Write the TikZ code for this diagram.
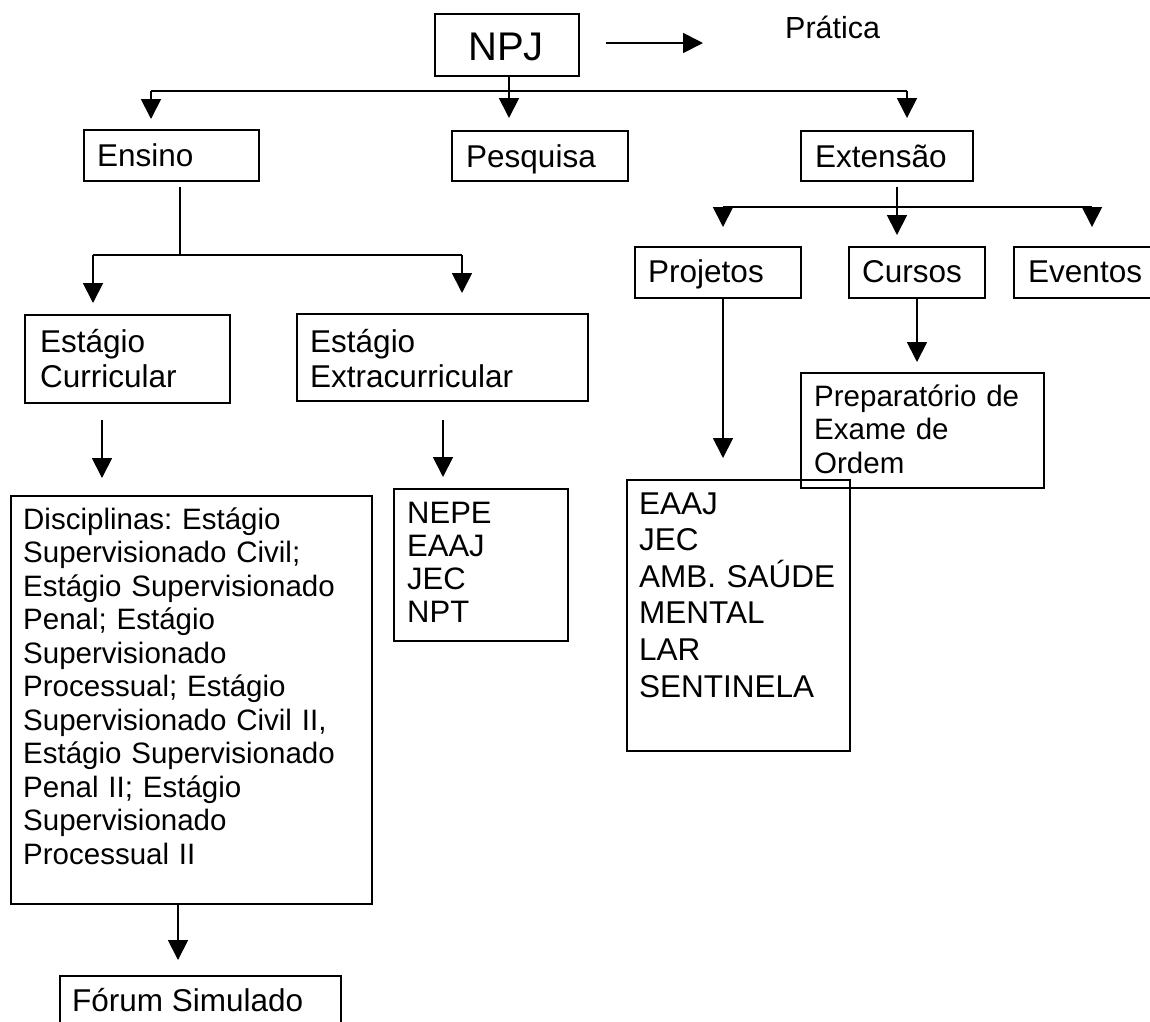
\documentclass[tikz,border=0pt]{standalone}
\usepackage{fontspec}
\setmainfont{Liberation Sans}
\usetikzlibrary{arrows.meta}
\frenchspacing

\tikzset{
  box/.style={draw, line width=1.8pt, inner sep=0pt, anchor=north west},
  txt/.style={inner sep=0pt, anchor=base west, align=left},
  lbl/.style={txt, font=\fontsize{31.5}{36.2}\selectfont},
  small/.style={txt, font=\fontsize{29.5}{33.5}\selectfont},
  conn/.style={line width=1.8pt},
  arrow/.style={conn, -{Triangle[length=20pt, width=20pt]}},
}

% rectangle node from its top-left corner and size
\newcommand{\boxat}[5]{\node[box, minimum width=#4pt, minimum height=#5pt] (#1) at (#2,#3) {};}

\begin{document}
\begin{tikzpicture}[x=1pt, y=-1pt]
  \useasboundingbox (0,0) rectangle (1150,1021);
  \fill[white] (0,0) rectangle (1150,1021);
  \clip (0,0) rectangle (1150,1021);

  % ---- boxes ----
  \boxat{npj}{434}{13}{144}{62}
  \boxat{ensino}{83}{129}{175}{51}
  \boxat{pesquisa}{451}{130}{176}{50}
  \boxat{extensao}{800}{130}{172}{50}
  \boxat{curricular}{24}{314}{205}{88}
  \boxat{extra}{296}{313}{291}{87}
  \boxat{disc}{10}{495}{361}{408}
  \boxat{nepe}{393}{488}{174}{152}
  \boxat{forum}{59}{975}{281}{70}
  \boxat{projetos}{634}{246}{166}{51}
  \boxat{cursos}{848}{246}{136}{51}
  \boxat{eventos}{1013}{246}{150}{51}
  \boxat{prep}{800}{372}{243}{115}
  \boxat{eaaj}{626}{479}{223}{271}

  % ---- texts ----
  \node[txt, font=\fontsize{40}{46}\selectfont] (npjT) at (468,60) {NPJ};
  \node[txt, font=\fontsize{30.5}{35}\selectfont] (pratica) at (785,38) {Prática};
  \node[lbl] (ensinoT) at (97,166) {Ensino};
  \node[lbl] (pesquisaT) at (466,167) {Pesquisa};
  \node[lbl] (extensaoT) at (815,167) {Extensão};
  \node[lbl, font=\fontsize{31.5}{35}\selectfont, text width=190pt] (curricularT) at (40,352) {Estágio\\Curricular};
  \node[lbl, font=\fontsize{31.5}{35}\selectfont, text width=270pt] (extraT) at (310,352) {Estágio\\Extracurricular};
  \node[small, text width=345pt] (discT) at (23,529)
    {Disciplinas: Estágio\\Supervisionado Civil;\\Estágio Supervisionado\\Penal; Estágio\\Supervisionado\\Processual; Estágio\\Supervisionado Civil II,\\Estágio Supervisionado\\Penal II; Estágio\\Supervisionado\\Processual II};
  \node[txt, font=\fontsize{31}{33.3}\selectfont, text width=150pt] (nepeT) at (407,523) {NEPE\\EAAJ\\JEC\\NPT};
  \node[lbl] (forumT) at (72,1011) {Fórum Simulado};
  \node[lbl] (projetosT) at (648,282) {Projetos};
  \node[lbl] (cursosT) at (862,282) {Cursos};
  \node[lbl] (eventosT) at (1028,282) {Eventos};
  \node[small, text width=230pt] (prepT) at (814,406) {Preparatório de\\Exame de\\Ordem};
  \node[lbl, font=\fontsize{31.5}{36.6}\selectfont, text width=210pt] (eaajT) at (639,514) {EAAJ\\JEC\\AMB. SAÚDE\\MENTAL\\LAR\\SENTINELA};

  % ---- free connector points ----
  \coordinate (praticaFrom) at (606,43);
  \coordinate (praticaTo) at (703,43);
  \coordinate (topBar) at (509,91);
  \coordinate (tipEnsino) at (151,119);
  \coordinate (tipPesquisa) at (509,118);
  \coordinate (tipExtensao) at (907,118);
  \coordinate (ensinoStem) at (180,187);
  \coordinate (ensinoBar) at (180,255);
  \coordinate (tipCurricular) at (93,303);
  \coordinate (tipExtra) at (462,293);
  \coordinate (curStem) at (102,420);
  \coordinate (tipDisc) at (102,478);
  \coordinate (extraStem) at (443,420);
  \coordinate (tipNepe) at (443,477);
  \coordinate (tipForum) at (178,960);
  \coordinate (extStem) at (897,187);
  \coordinate (extBar) at (897,207);
  \coordinate (tipCursos) at (897,235);
  \coordinate (tipProjetos) at (723,227);
  \coordinate (tipEventos) at (1092,227);
  \coordinate (tipEaaj) at (723,458);
  \coordinate (tipPrep) at (917,362);

  % ---- connectors ----
  \draw[arrow] (praticaFrom) -- (praticaTo);

  \draw[conn] (tipEnsino |- topBar) -- (tipExtensao |- topBar);
  \draw[arrow] (npj.south -| tipPesquisa) -- (tipPesquisa);
  \draw[arrow] (tipEnsino |- topBar) -- (tipEnsino);
  \draw[arrow] (tipExtensao |- topBar) -- (tipExtensao);

  \draw[conn] (ensinoStem) -- (ensinoBar);
  \draw[conn] (tipCurricular |- ensinoBar) -- (tipExtra |- ensinoBar);
  \draw[arrow] (tipCurricular |- ensinoBar) -- (tipCurricular);
  \draw[arrow] (tipExtra |- ensinoBar) -- (tipExtra);

  \draw[arrow] (curStem) -- (tipDisc);
  \draw[arrow] (extraStem) -- (tipNepe);
  \draw[arrow] (disc.south -| tipForum) -- (tipForum);

  \draw[conn] (tipProjetos |- extBar) -- (tipEventos |- extBar);
  \draw[arrow] (extStem) -- (tipCursos);
  \draw[arrow] (tipProjetos |- extBar) -- (tipProjetos);
  \draw[arrow] (tipEventos |- extBar) -- (tipEventos);

  \draw[arrow] (projetos.south -| tipEaaj) -- (tipEaaj);
  \draw[arrow] (cursos.south -| tipPrep) -- (tipPrep);
\end{tikzpicture}
\end{document}
